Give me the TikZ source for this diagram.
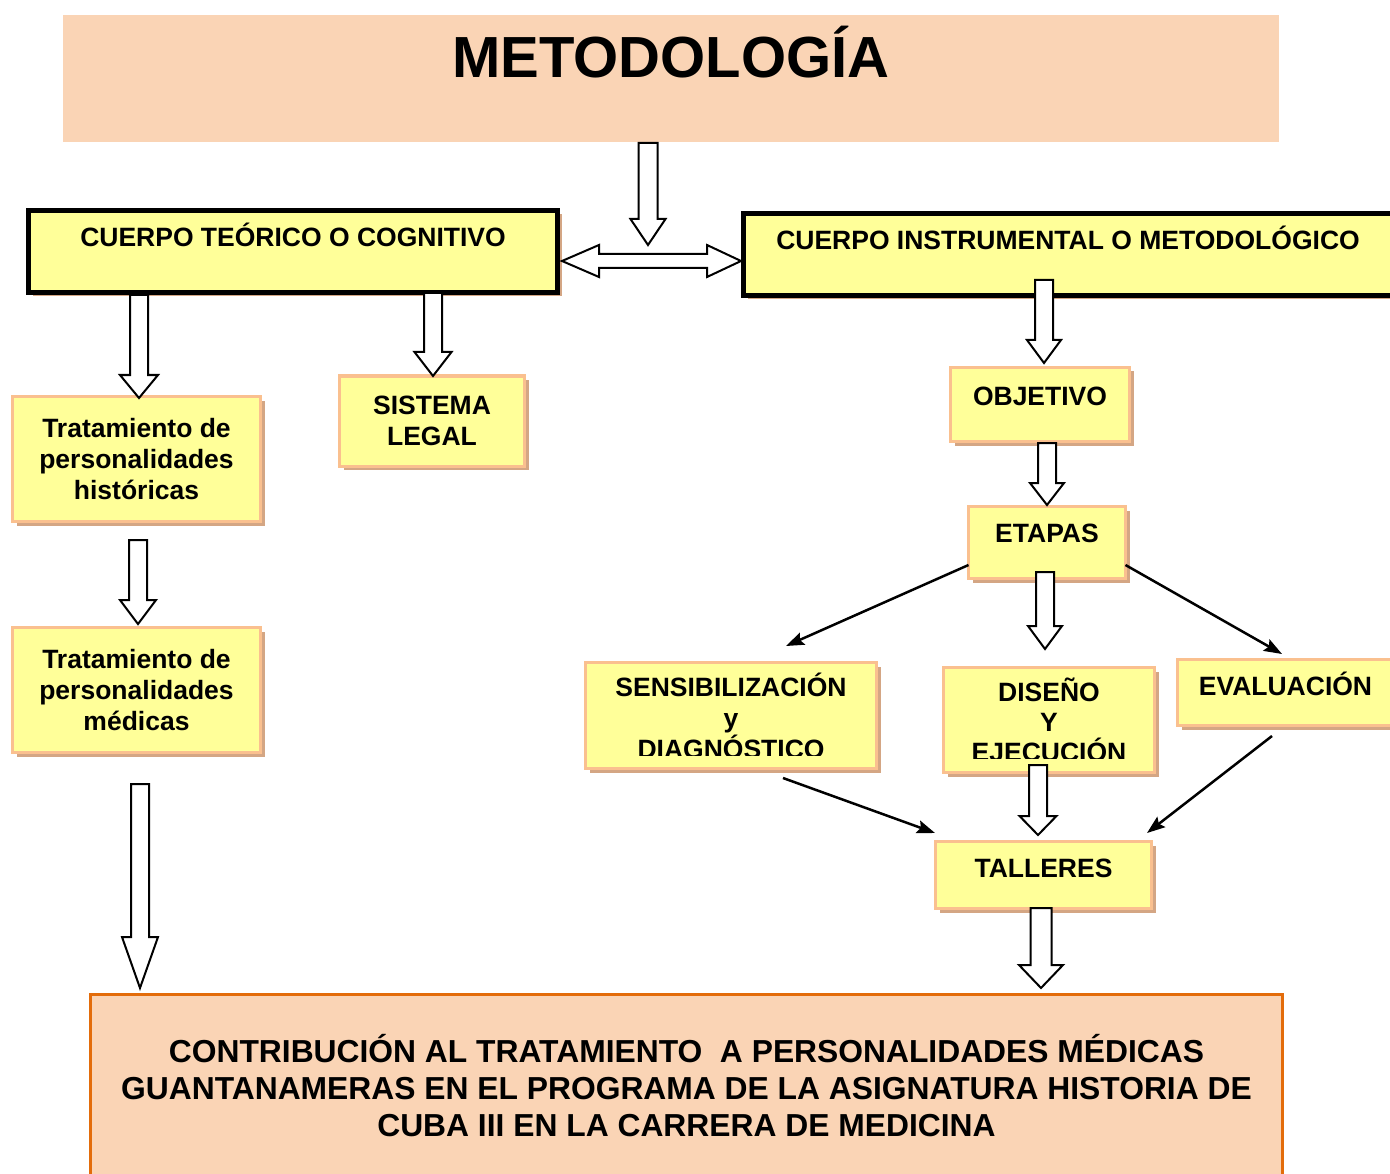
\documentclass[tikz,border=0pt]{standalone}
\usepackage{fontspec}
\setmainfont{Liberation Sans}
\usetikzlibrary{arrows.meta,calc}

% hollow block arrow pointing down: start, tip, head length, shaft half, head half
\newcommand\blockdown[5]{%
  \draw[blockarrow] let \p1=(#1), \p2=(#2) in
    (\x1-#4pt,\y1) -- (\x1+#4pt,\y1) -- (\x1+#4pt,\y2+#3pt) -- (\x1+#5pt,\y2+#3pt)
    -- (\x1,\y2) -- (\x1-#5pt,\y2+#3pt) -- (\x1-#4pt,\y2+#3pt) -- cycle;}

\begin{document}
\begin{tikzpicture}[x=1pt,y=-1pt,line join=miter,
  every node/.style={inner sep=0pt, outer sep=0pt},
  txt/.style={font=\fontsize{26.5}{31}\selectfont\bfseries, align=center},
  box/.style={txt, draw=boxedge, line width=3pt, fill=boxyellow,
    preaction={fill=boxshadow, transform canvas={shift={(4pt,-4pt)}}}},
  cuerpo/.style={box, draw=black, line width=5pt},
  peachbox/.style={fill=peach},
  blockarrow/.style={draw=black, fill=white, line width=2pt},
  link/.style={line width=2.5pt, -{Stealth[length=18pt,width=13pt,inset=3pt]}}]
\definecolor{peach}{RGB}{250,212,181}
\definecolor{boxyellow}{RGB}{255,255,153}
\definecolor{boxedge}{RGB}{250,192,143}
\definecolor{boxshadow}{RGB}{212,166,132}
\definecolor{deeporange}{RGB}{227,108,10}
\useasboundingbox (0,0) rectangle (1390,1174);

% title
\node[peachbox, anchor=north west, minimum width=1216pt, text height=63pt, text depth=64pt,
  font=\fontsize{58}{60}\selectfont\bfseries] (title) at (63,15) {METODOLOGÍA};

% two main bodies
\node[cuerpo, anchor=north west, minimum width=529pt, text height=36.5pt, text depth=45.5pt] (teo) at (28.5,210.5) {CUERPO TEÓRICO O COGNITIVO};
\node[cuerpo, anchor=north west, minimum width=649pt, text height=36.5pt, text depth=45.5pt] (instr) at (743.5,213.5) {CUERPO INSTRUMENTAL O METODOLÓGICO};

% left column
\node[box, minimum width=248pt, minimum height=125pt] (hist) at (136.5,459) {Tratamiento de\\personalidades\\históricas};
\node[box, minimum width=185pt, minimum height=90pt] (sistema) at (432,421) {SISTEMA\\LEGAL};
\node[box, minimum width=248pt, minimum height=125pt] (med) at (136.5,690) {Tratamiento de\\personalidades\\médicas};

% right column
\node[box, anchor=north west, minimum width=179pt, text height=37.5pt, text depth=36.5pt] (obj) at (950.5,367.5) {OBJETIVO};
\node[box, anchor=north west, minimum width=157pt, text height=35.5pt, text depth=36.5pt] (etapas) at (968.5,506.5) {ETAPAS};
\node[box, minimum width=291pt, minimum height=106pt] (sens) at (731,715.5) {SENSIBILIZACIÓN\\y\\DIAGNÓSTICO};
\node[box, minimum width=211pt, minimum height=105pt, font=\fontsize{26.5}{30}\selectfont\bfseries] (diseno) at (1049,720) {DISEÑO\\Y\\EJECUCIÓN};
\node[box, anchor=north west, minimum width=216pt, text height=35.5pt, text depth=30.5pt] (eval) at (1177.5,659.5) {EVALUACIÓN};
\node[box, anchor=north west, minimum width=216pt, text height=35.5pt, text depth=31.5pt] (talleres) at (935.5,841.5) {TALLERES};

% text cut off at the bottom of the boxes
\fill[boxyellow] ($(sens.south west)+(1.5,-1.5)$) rectangle ($(sens.south east)+(-1.5,-12.5)$);
\fill[boxyellow] ($(diseno.south west)+(1.5,-1.5)$) rectangle ($(diseno.south east)+(-1.5,-13.5)$);

% result
\node[txt, fill=peach, draw=deeporange, line width=3pt, minimum width=1192pt, minimum height=183pt,
  font=\fontsize{31.8}{37}\selectfont\bfseries] (result) at (686.5,1086)
  {CONTRIBUCIÓN AL TRATAMIENTO \ A PERSONALIDADES MÉDICAS\\GUANTANAMERAS EN EL PROGRAMA DE LA ASIGNATURA HISTORIA DE\\CUBA III EN LA CARRERA DE MEDICINA};

% block arrow ends
\coordinate (a1) at (648,143);  \coordinate (a1e) at (648,245);
\coordinate (a2) at (139,295);  \coordinate (a2e) at (139,398);
\coordinate (a3) at (433,293);  \coordinate (a3e) at (433,376);
\coordinate (a4) at (138,540);  \coordinate (a4e) at (138,624);
\coordinate (a5) at (140,784);  \coordinate (a5e) at (140,988);
\coordinate (a6) at (1044,280); \coordinate (a6e) at (1044,363);
\coordinate (a7) at (1047,443); \coordinate (a7e) at (1047,505);
\coordinate (a8) at (1045,572); \coordinate (a8e) at (1045,649);
\coordinate (a9) at (1038,765); \coordinate (a9e) at (1038,835);
\coordinate (a10) at (1041,908); \coordinate (a10e) at (1041,988);
\coordinate (dl) at (562,261);  \coordinate (dr) at (741,261);

\blockdown{a1}{a1e}{26}{9.5}{17.5}
\blockdown{a2}{a2e}{23}{9}{19}
\blockdown{a3}{a3e}{24}{9}{18.5}
\blockdown{a4}{a4e}{24}{9}{18}
\blockdown{a5}{a5e}{51}{9}{18}
\blockdown{a6}{a6e}{23}{9}{17}
\blockdown{a7}{a7e}{22}{9}{17}
\blockdown{a8}{a8e}{23}{9}{17}
\blockdown{a9}{a9e}{19}{9}{18.5}
\blockdown{a10}{a10e}{23}{10.5}{22}

% double arrow between the bodies
\draw[blockarrow] let \p1=(dl), \p2=(dr) in
  (\x1,\y1) -- (\x1+37pt,\y1+16pt) -- (\x1+37pt,\y1+7pt) -- (\x2-34pt,\y1+7pt) -- (\x2-34pt,\y1+16pt)
  -- (\x2,\y1) -- (\x2-34pt,\y1-16pt) -- (\x2-34pt,\y1-7pt) -- (\x1+37pt,\y1-7pt) -- (\x1+37pt,\y1-16pt) -- cycle;

% thin arrows
\coordinate (l1e) at (786,646);
\coordinate (l2e) at (1282,654);
\coordinate (l3) at (783,778);  \coordinate (l3e) at (935,833);
\coordinate (l4) at (1272,736); \coordinate (l4e) at (1147,833);
\draw[link] (etapas.196) -- (l1e);
\draw[link] (etapas.344) -- (l2e);
\draw[link] (l3) -- (l3e);
\draw[link] (l4) -- (l4e);
\end{tikzpicture}
\end{document}
